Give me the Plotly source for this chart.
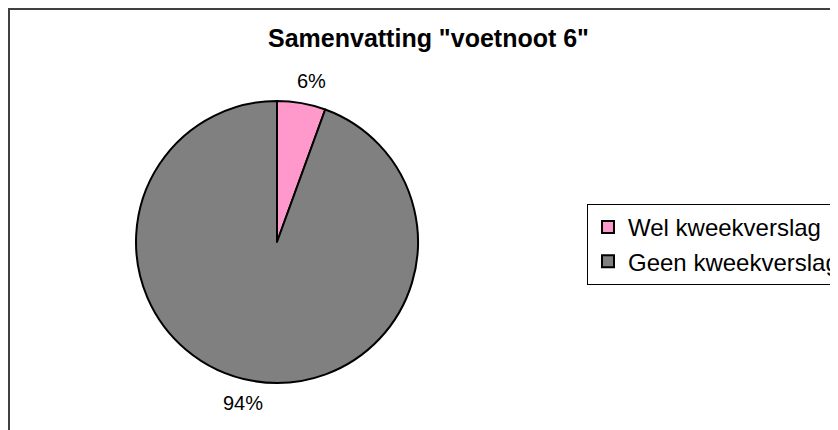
import math
import plotly.graph_objects as go

# Data
categories = ["Wel kweekverslag", "Geen kweekverslag"]
values = [1, 17]
colors = ["#FF99CC", "#808080"]
title_text = 'Samenvatting "voetnoot 6"'

W, H = 838, 430
FONT = "Liberation Sans, Arial, sans-serif"

# page body adds an 8px margin; work in figure coordinates
cx, cy, r = 269, 234, 141
label_dist = 163
label_pad = 6

fig = go.Figure(go.Pie(
    labels=categories,
    values=values,
    marker=dict(colors=colors, line=dict(color="black", width=2)),
    sort=False,
    direction="clockwise",
    rotation=0,
    textinfo="none",
    hoverinfo="skip",
    domain=dict(x=[(cx - r) / W, (cx + r) / W],
                y=[(H - cy - r) / H, (H - cy + r) / H]),
))

# percentage labels outside the slices, placed at each slice's mid-angle
total = sum(values)
annotations = []
cum = 0
for v in values:
    mid = (cum + v / 2) / total
    cum += v
    th = 2 * math.pi * mid
    s, c = math.sin(th), math.cos(th)
    px = cx + label_dist * s + label_pad * (1 if s >= 0 else -1)
    py = cy - label_dist * c
    annotations.append(dict(
        x=px / W, y=1 - py / H, xref="paper", yref="paper",
        xanchor="center", yanchor="middle", showarrow=False,
        text=f"{round(100 * v / total)}%",
        font=dict(family=FONT, size=20, color="black"),
    ))

fig.update_layout(
    width=W, height=H,
    margin=dict(l=0, r=0, t=0, b=0),
    paper_bgcolor="white",
    plot_bgcolor="white",
    title=dict(text="<b>" + title_text + "</b>", x=420.5 / W, xanchor="center",
               y=1 - 30.5 / H, yanchor="middle", yref="container",
               font=dict(family=FONT, size=25, color="black")),
    showlegend=True,
    legend=dict(x=579 / W, xanchor="left", y=(H - 277) / H, yanchor="bottom",
                bordercolor="black", borderwidth=1, bgcolor="white",
                font=dict(family=FONT, size=24, color="black"),
                itemwidth=30, itemclick=False, itemdoubleclick=False),
    annotations=annotations,
    shapes=[dict(type="rect", xref="paper", yref="paper",
                 x0=1 / W, x1=1.2, y0=-0.2, y1=1 - 1 / H,
                 line=dict(color="#404040", width=2), fillcolor="rgba(0,0,0,0)")],
)

fig.write_html("out.html")
